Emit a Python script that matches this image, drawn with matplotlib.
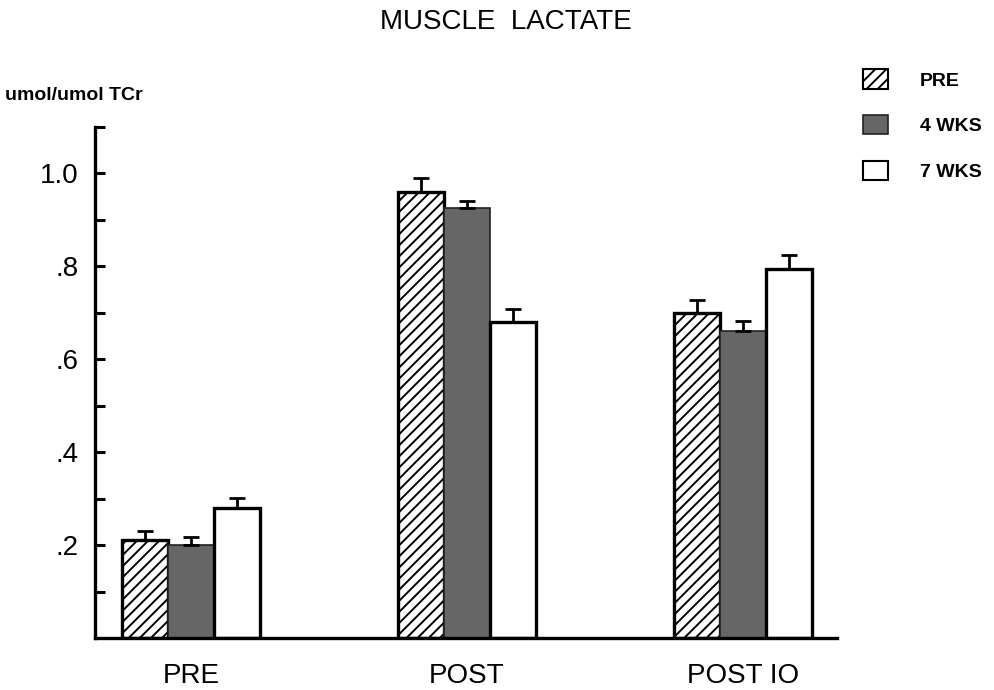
import matplotlib
matplotlib.use("Agg")
import matplotlib.pyplot as plt
from matplotlib.patches import Patch
import numpy as np

# Group labels and bar values (umol/umol TCr)
categories = ["PRE", "POST", "POST IO"]
pre_vals = [0.21, 0.96, 0.70]
wk4_vals = [0.20, 0.925, 0.66]
wk7_vals = [0.28, 0.68, 0.795]

# Upper error bars only
pre_err = [0.02, 0.03, 0.028]
wk4_err = [0.017, 0.015, 0.022]
wk7_err = [0.022, 0.028, 0.03]

series_labels = ["PRE", "4 WKS", "7 WKS"]
y_major = [0.2, 0.4, 0.6, 0.8, 1.0]
y_major_labels = [".2", ".4", ".6", ".8", "1.0"]
y_minor = [0.1, 0.3, 0.5, 0.7, 0.9, 1.1]

plt.rcParams["font.family"] = ["Liberation Sans", "DejaVu Sans"]
plt.rcParams["hatch.linewidth"] = 1.4
plt.rcParams["hatch.color"] = "black"

fig = plt.figure(figsize=(9.94, 6.9), dpi=100)
ax = fig.add_axes([0.0956, 0.0754, 0.7465, 0.7406])

x = np.arange(len(categories))
w = 0.167
gray = "#666666"

ax.bar(x - w, pre_vals, w, facecolor="white", edgecolor="black", linewidth=2.4, hatch="///", zorder=2)
ax.bar(x, wk4_vals, w, facecolor=gray, edgecolor="#222222", linewidth=1.2, zorder=2)
ax.bar(x + w, wk7_vals, w, facecolor="white", edgecolor="black", linewidth=2.4, zorder=2)

for offs, vals, errs in [(-w, pre_vals, pre_err), (0, wk4_vals, wk4_err), (w, wk7_vals, wk7_err)]:
    ax.errorbar(x + offs, vals, yerr=[np.zeros(len(vals)), errs], fmt="none",
                ecolor="black", elinewidth=2, capsize=6, capthick=2, zorder=3)

ax.set_xlim(-0.348, 2.341)
ax.set_ylim(0, 1.1)

ax.set_xticks(x)
ax.set_xticklabels(categories, fontsize=20)
ax.tick_params(axis="x", length=0, pad=18)

ax.set_yticks(y_major)
ax.set_yticklabels(y_major_labels, fontsize=20)
ax.set_yticks(y_minor, minor=True)
ax.tick_params(axis="y", which="both", direction="in", length=7, width=2.2, pad=12)

for side in ["top", "right"]:
    ax.spines[side].set_visible(False)
ax.spines["left"].set_linewidth(2.4)
ax.spines["bottom"].set_linewidth(2.4)

fig.text(0.509, 1 - 22 / 690, "MUSCLE  LACTATE", ha="center", va="center", fontsize=20)
fig.text(5 / 994, 1 - 96 / 690, "umol/umol TCr", ha="left", va="center", fontsize=14, fontweight="bold")

handles = [
    Patch(facecolor="white", edgecolor="black", hatch="///", linewidth=1.5),
    Patch(facecolor=gray, edgecolor="#222222", linewidth=1.2),
    Patch(facecolor="white", edgecolor="black", linewidth=1.5),
]
fig.legend(handles, series_labels, loc="upper left", bbox_to_anchor=(845 / 994, 1 - 52 / 690),
           frameon=False, prop={"size": 14, "weight": "bold"}, handlelength=1.3, handleheight=1.15,
           handletextpad=1.65, labelspacing=1.3)

fig.savefig("out.png", dpi=100)
